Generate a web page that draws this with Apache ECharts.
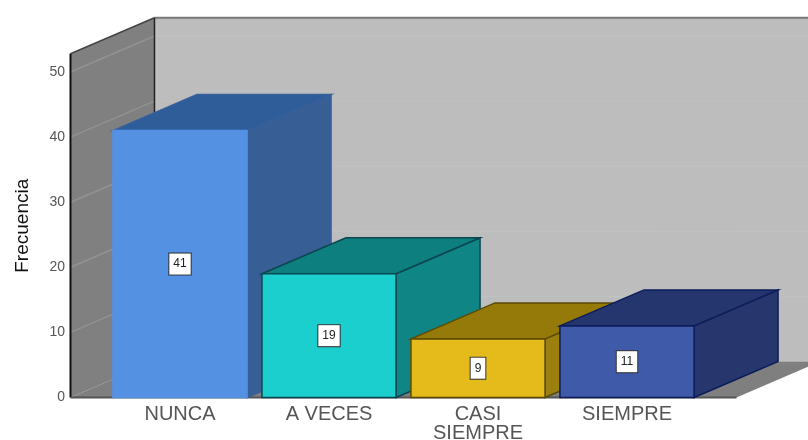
<!DOCTYPE html>
<html><head><meta charset="utf-8">
<style>html,body{margin:0;padding:0;background:#fff}#c{width:808px;height:440px}</style>
<script src="https://cdn.jsdelivr.net/npm/echarts@6/dist/echarts.min.js"></script>
</head><body><div id="c"></div>
<script>
const categories = ['NUNCA', 'A VECES', 'CASI\nSIEMPRE', 'SIEMPRE'];
const frecuencia = [41, 19, 9, 11];
const yTicks = [0, 10, 20, 30, 40, 50];
const wallTopValue = 52.8;
const frontColors = ['#5491e3', '#1ccfcf', '#e5bb1b', '#3e5aa8'];
const sideColors = ['#375f96', '#0f8585', '#9c800f', '#27376e'];
const topColors = ['#2f5d9a', '#0e7f7f', '#957a0a', '#25356d'];
const edgeColors = ['#35609c', '#0a4650', '#5a4a05', '#0c1d5a'];

const DX = 84, DY = -36;          // oblique depth of the 3D box
const BAR_RATIO = 0.9;            // bar width / category step
const SIDE_PAD = 0.735;           // floor overhang from first/last category centre, in steps

const chart = echarts.init(document.getElementById('c'), null, {renderer: 'canvas'});

function poly(points, fill, stroke, lw) {
  return {type: 'polygon', shape: {points}, style: {fill, stroke: stroke || fill, lineWidth: lw === undefined ? 1 : lw}};
}
function line(a, b, stroke, lw) {
  return {type: 'line', shape: {x1: a[0], y1: a[1], x2: b[0], y2: b[1]}, style: {stroke, lineWidth: lw}};
}
const back = p => [p[0] + DX, p[1] + DY];

function renderWalls(params, api) {
  const step = api.size([1, 0])[0];
  const x0 = api.coord([0, 0])[0] - SIDE_PAD * step;
  const x1 = api.coord([categories.length - 1, 0])[0] + SIDE_PAD * step;
  const y = v => api.coord([0, v])[1];
  const fl = [x0, y(0)], fr = [x1, y(0)], tl = [x0, y(wallTopValue)];
  const farRight = 900;
  const ch = [];
  ch.push(poly([back(tl), [farRight, back(tl)[1]], [farRight, back(fl)[1]], back(fl)], '#bdbdbd', '#bdbdbd', 0));
  ch.push(poly([fl, fr, back(fr), [farRight, back(fr)[1]], back(fl)], '#7f7f7f', '#7f7f7f', 0));
  ch.push(poly([tl, back(tl), back(fl), fl], '#808080', '#808080', 0));
  yTicks.forEach(v => {
    const p = [x0, y(v)];
    if (v > 0) {
      ch.push(line(back(p), [farRight, back(p)[1]], '#c2c2c2', 1));
      ch.push(line(p, back(p), '#929292', 1.5));
    }
  });
  ch.push(line(back(tl), [farRight, back(tl)[1]], '#777', 2));
  ch.push(line(tl, back(tl), '#444', 1.5));
  ch.push(line(back(tl), back(fl), '#222', 1.5));
  ch.push(line(tl, fl, '#111', 2));
  ch.push(line(fl, fr, '#555', 2));
  return {type: 'group', children: ch};
}

function renderBar(params, api) {
  const i = api.value(0), v = api.value(1);
  const c = api.coord([i, v]), b = api.coord([i, 0]);
  const w = api.size([1, 0])[0] * BAR_RATIO;
  const l = c[0] - w / 2, r = c[0] + w / 2, t = c[1], y0 = b[1];
  const e = edgeColors[i];
  return {type: 'group', children: [
    poly([[r, y0], back([r, y0]), back([r, t]), [r, t]], sideColors[i], e, 1.5),
    poly([[l, t], back([l, t]), back([r, t]), [r, t]], topColors[i], e, 1.5),
    poly([[l, t], [r, t], [r, y0], [l, y0]], frontColors[i], i === 0 ? frontColors[0] : e, 1.5),
    {type: 'text', style: {
      text: String(v), x: c[0], y: (t + y0) / 2, align: 'center', verticalAlign: 'middle',
      font: '12px "Liberation Sans", Arial, sans-serif', fill: '#222',
      backgroundColor: '#fff', borderColor: '#333', borderWidth: 1, padding: [5, 4, 4, 4]
    }}
  ]};
}

chart.setOption({
  animation: false,
  backgroundColor: '#fff',
  grid: {left: 105.5, width: 596, top: 72, height: 325.5, containLabel: false, outerBoundsMode: 'none'},
  xAxis: {
    type: 'category', data: categories, boundaryGap: true,
    axisLine: {show: false}, axisTick: {show: false}, splitLine: {show: false},
    axisLabel: {margin: 7, color: '#555', fontFamily: '"Liberation Sans", Arial, sans-serif', fontSize: 20, lineHeight: 19, interval: 0}
  },
  yAxis: {
    type: 'value', min: 0, max: 50, interval: 10, offset: 34.5,
    name: 'Frecuencia', nameLocation: 'middle', nameGap: 39,
    nameTextStyle: {color: '#111', fontFamily: '"Liberation Sans", Arial, sans-serif', fontSize: 19, padding: [0, 0, 0, 18]},
    axisLine: {show: false}, axisTick: {show: false}, splitLine: {show: false},
    axisLabel: {margin: 6, color: '#555', fontFamily: '"Liberation Sans", Arial, sans-serif', fontSize: 14}
  },
  series: [
    {type: 'custom', silent: true, z: 1, renderItem: renderWalls, data: [[0, 0]], encode: {x: 0, y: 1}, clip: false},
    {type: 'custom', silent: true, z: 2, renderItem: renderBar, data: frecuencia.map((v, i) => [i, v]), encode: {x: 0, y: 1}, clip: false}
  ]
});
</script></body></html>
